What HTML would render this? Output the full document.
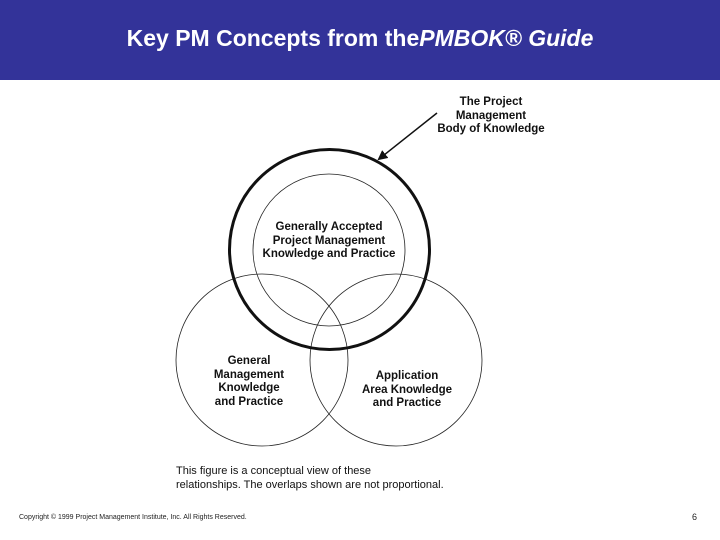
<!DOCTYPE html>
<html><head><meta charset="utf-8"><style>
body{margin:0;width:720px;height:540px;background:#fff;position:relative;overflow:hidden;font-family:"Liberation Sans",sans-serif}
.hdr{position:absolute;left:0;top:0;width:720px;height:80px;background:#333399}
.hdr div{position:absolute;left:0;width:720px;top:25px;text-align:center;color:#fff;font-weight:bold;font-size:23px}
.t{position:absolute;font-weight:bold;font-size:11.5px;text-align:center;line-height:13.5px;color:#111}
</style></head><body>
<div class="hdr"><div>Key PM Concepts from the<i>PMBOK® Guide</i></div></div>
<svg width="720" height="540" style="position:absolute;left:0;top:0">
<defs><marker id="a" markerWidth="10" markerHeight="10" refX="8" refY="5" orient="auto" markerUnits="userSpaceOnUse"><path d="M0,0 L10,5 L0,10 Z" fill="#111"/></marker></defs>
<circle cx="329" cy="250" r="76" fill="none" stroke="#222" stroke-width="0.8"/>
<circle cx="262" cy="360" r="86" fill="none" stroke="#222" stroke-width="0.8"/>
<circle cx="396" cy="360" r="86" fill="none" stroke="#222" stroke-width="0.8"/>
<circle cx="329.5" cy="249.5" r="100" fill="none" stroke="#111" stroke-width="3"/>
<line x1="437" y1="113" x2="379" y2="159" stroke="#111" stroke-width="1.5" marker-end="url(#a)"/>
</svg>
<div class="t" style="left:430px;top:96px;width:122px">The Project<br>Management<br>Body of Knowledge</div>
<div class="t" style="left:249px;top:221px;width:160px">Generally Accepted<br>Project Management<br>Knowledge and Practice</div>
<div class="t" style="left:199px;top:355px;width:100px">General<br>Management<br>Knowledge<br>and Practice</div>
<div class="t" style="left:352px;top:370px;width:110px">Application<br>Area Knowledge<br>and Practice</div>
<div style="position:absolute;left:176px;top:465px;font-size:11px;line-height:13.5px;color:#111">This figure is a conceptual view of these<br>relationships. The overlaps shown are not proportional.</div>
<div style="position:absolute;left:19px;top:514px;font-size:7px;color:#222">Copyright © 1999 Project Management Institute, Inc. All Rights Reserved.</div>
<div style="position:absolute;left:692px;top:512px;font-size:9px;color:#222">6</div>
</body></html>
